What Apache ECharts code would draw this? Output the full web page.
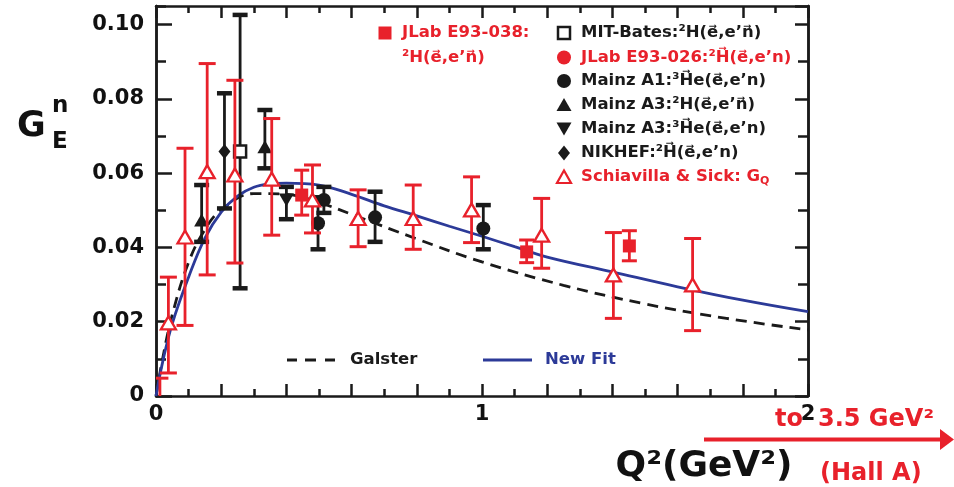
<!DOCTYPE html>
<html><head><meta charset="utf-8">
<script src="https://cdn.jsdelivr.net/npm/echarts/dist/echarts.min.js"></script>
<style>html,body{margin:0;padding:0;background:#fff}#c{width:954px;height:487px}</style>
</head><body><div id="c"></div>
<script>
// ---- curves ----
const galsterQ2 = [0, 0.02, 0.05, 0.1, 0.15, 0.2, 0.3, 0.4, 0.5, 0.6, 0.8, 1.0, 1.25, 1.5, 1.75, 2.0];
const galsterG  = [0, 0.0099, 0.0219, 0.036, 0.0448, 0.0501, 0.0545, 0.0543, 0.0521, 0.0489, 0.0423, 0.0361, 0.0298, 0.0248, 0.0209, 0.0178];
const newFitQ2 = [0, 0.02, 0.05, 0.1, 0.15, 0.2, 0.25, 0.3, 0.35, 0.4, 0.5, 0.6, 0.7, 0.8, 0.9, 1.0, 1.1, 1.2, 1.4, 1.6, 1.8, 2.0];
const newFitG  = [0, 0.009, 0.0195, 0.032, 0.0425, 0.0495, 0.0538, 0.0562, 0.0571, 0.0573, 0.0568, 0.0543, 0.0512, 0.0485, 0.0457, 0.043, 0.0402, 0.0374, 0.0334, 0.0294, 0.0258, 0.0227];
// ---- data points: [Q2, GEn, low, high] ----
const jlab038   = [[0.447, 0.0541, 0.0487, 0.0608], [1.137, 0.0388, 0.0359, 0.042], [1.452, 0.0404, 0.0364, 0.0445]];
const mitBates  = [[0.258, 0.0658, 0.029, 0.1026]];
const mainzA1   = [[0.497, 0.0465, 0.0395, 0.0535], [0.515, 0.0528, 0.0493, 0.0563], [0.672, 0.0481, 0.0415, 0.055], [1.004, 0.0451, 0.0395, 0.0514]];
const mainzA3d  = [[0.14, 0.0474, 0.0415, 0.0568], [0.334, 0.0671, 0.0613, 0.077]];
const mainzA3he = [[0.40, 0.0528, 0.0476, 0.0563]];
const nikhef    = [[0.21, 0.0658, 0.0505, 0.0815]];
const schiavilla = [[0.012, -0.004, -0.012, 0.0048], [0.038, 0.0197, 0.0062, 0.032], [0.089, 0.0428, 0.019, 0.0667], [0.157, 0.0604, 0.0326, 0.0895],
  [0.242, 0.0595, 0.0358, 0.085], [0.355, 0.0584, 0.0433, 0.0747], [0.48, 0.0528, 0.0439, 0.0622], [0.62, 0.0478, 0.0402, 0.0555],
  [0.789, 0.0478, 0.0395, 0.0568], [0.968, 0.0501, 0.0413, 0.059], [1.183, 0.0433, 0.0344, 0.0532], [1.403, 0.0326, 0.0209, 0.044], [1.646, 0.0299, 0.0176, 0.0424]];
const xLabelValues = [0, 1, 2];
const yLabelValues = [0, 0.02, 0.04, 0.06, 0.08, 0.10];

const RED = '#e8212b', BLK = '#1a1a1a', BLUE = '#2c3a98';
const FONT = '"DejaVu Sans", sans-serif';

function errBars(data, color, capW, lw, capLw, z) {
  return {
    type: 'custom', data: data, z: z, clip: true, silent: true,
    encode: { x: 0, y: 1 },
    renderItem: function (params, api) {
      const x = api.value(0);
      const pLo = api.coord([x, api.value(2)]);
      const pHi = api.coord([x, api.value(3)]);
      const h = capW / 2;
      return { type: 'group', children: [
        { type: 'line', shape: { x1: pLo[0], y1: pLo[1], x2: pHi[0], y2: pHi[1] }, style: { stroke: color, lineWidth: lw } },
        { type: 'line', shape: { x1: pLo[0] - h, y1: pLo[1], x2: pLo[0] + h, y2: pLo[1] }, style: { stroke: color, lineWidth: capLw } },
        { type: 'line', shape: { x1: pHi[0] - h, y1: pHi[1], x2: pHi[0] + h, y2: pHi[1] }, style: { stroke: color, lineWidth: capLw } }
      ] };
    }
  };
}
function marks(data, symbol, size, fill, stroke, bw, z) {
  return { type: 'scatter', data: data.map(d => [d[0], d[1]]), symbol: symbol, symbolSize: size, z: z, silent: true,
    itemStyle: { color: fill, borderColor: stroke, borderWidth: bw, opacity: 1 } };
}
function near(v, arr) { return arr.some(a => Math.abs(a - v) < 1e-6); }

const axisLineStyle = { color: BLK, width: 2.5 };
const tickStyle = { color: BLK, width: 2.5 };
const labelStyle = { fontFamily: FONT, fontWeight: 'bold', fontSize: 21, color: '#111' };

function xAx(pos, showLabel) {
  return { type: 'value', position: pos, min: 0, max: 2, interval: 0.2,
    axisLine: { show: true, onZero: false, lineStyle: axisLineStyle },
    axisTick: { show: true, inside: true, length: 12, lineStyle: tickStyle },
    minorTick: { show: true, splitNumber: 2, length: 7, lineStyle: tickStyle },
    splitLine: { show: false }, minorSplitLine: { show: false },
    axisLabel: { show: showLabel, margin: 8, ...labelStyle, formatter: v => near(v, xLabelValues) ? String(Math.round(v)) : '' } };
}
function yAx(pos, interval, len, showLabel) {
  return { type: 'value', position: pos, min: 0, max: 0.105, interval: interval,
    axisLine: { show: true, onZero: false, lineStyle: axisLineStyle },
    axisTick: { show: true, inside: true, length: len, lineStyle: tickStyle },
    splitLine: { show: false },
    axisLabel: { show: showLabel, margin: 12, ...labelStyle, showMaxLabel: false,
      formatter: v => near(v, yLabelValues) ? (v === 0 ? '0' : v.toFixed(2)) : '' } };
}

const chart = echarts.init(document.getElementById('c'), null, { renderer: 'canvas' });

const legendRows = [
  { y: 33,  sym: 'osq',  color: BLK, text: 'MIT-Bates:²H(e⃗,e’n⃗)' },
  { y: 57.5, sym: 'circ', color: RED, text: 'JLab E93-026:²H⃗(e⃗,e’n)' },
  { y: 81,  sym: 'circ', color: BLK, text: 'Mainz A1:³H⃗e(e⃗,e’n)' },
  { y: 105, sym: 'tri',  color: BLK, text: 'Mainz A3:²H(e⃗,e’n⃗)' },
  { y: 128.5, sym: 'dtri', color: BLK, text: 'Mainz A3:³H⃗e(e⃗,e’n)' },
  { y: 153, sym: 'dia',  color: BLK, text: 'NIKHEF:²H⃗(e⃗,e’n)' },
  { y: 177, sym: 'otri', color: RED, text: '{a|Schiavilla & Sick: G}{s|Q}' }
];
const graphics = [];
function legendSym(kind, cx, cy, color) {
  if (kind === 'osq') return { type: 'rect', shape: { x: cx - 6, y: cy - 6, width: 12, height: 12 }, style: { fill: '#fff', stroke: color, lineWidth: 2.5 } };
  if (kind === 'fsq') return { type: 'rect', shape: { x: cx - 6.5, y: cy - 6.5, width: 13, height: 13 }, style: { fill: color } };
  if (kind === 'circ') return { type: 'circle', shape: { cx: cx, cy: cy, r: 7 }, style: { fill: color } };
  if (kind === 'tri') return { type: 'polygon', shape: { points: [[cx - 7.5, cy + 6], [cx + 7.5, cy + 6], [cx, cy - 7]] }, style: { fill: color } };
  if (kind === 'dtri') return { type: 'polygon', shape: { points: [[cx - 7.5, cy - 6], [cx + 7.5, cy - 6], [cx, cy + 7]] }, style: { fill: color } };
  if (kind === 'dia') return { type: 'polygon', shape: { points: [[cx, cy - 7.5], [cx + 6, cy], [cx, cy + 7.5], [cx - 6, cy]] }, style: { fill: color } };
  if (kind === 'otri') return { type: 'polygon', shape: { points: [[cx - 7, cy + 6], [cx + 7, cy + 6], [cx, cy - 6.5]] }, style: { fill: '#fff', stroke: color, lineWidth: 2.2 } };
}
const richDef = { a: { fontFamily: FONT, fontWeight: 'bold', fontSize: 16.5, fill: RED }, s: { fontFamily: FONT, fontWeight: 'bold', fontSize: 11, fill: RED, padding: [9, 0, 0, 0] } };
legendRows.forEach(r => {
  graphics.push(legendSym(r.sym, 564, r.y, r.color));
  graphics.push({ type: 'text', x: 581, y: r.y, style: { text: r.text, fill: r.color, font: 'bold 16.5px ' + FONT, textVerticalAlign: 'middle', rich: richDef } });
});
graphics.push(legendSym('fsq', 385, 33, RED));
graphics.push({ type: 'text', x: 402, y: 33, style: { text: 'JLab E93-038:', fill: RED, font: 'bold 16.5px ' + FONT, textVerticalAlign: 'middle' } });
graphics.push({ type: 'text', x: 402, y: 57.5, style: { text: '²H(e⃗,e’n⃗)', fill: RED, font: 'bold 16.5px ' + FONT, textVerticalAlign: 'middle' } });
// line legend
[[287, 297], [305, 316], [325, 335]].forEach(s => graphics.push({ type: 'line', shape: { x1: s[0], y1: 360, x2: s[1], y2: 360 }, style: { stroke: BLK, lineWidth: 3 } }));
graphics.push({ type: 'text', x: 350, y: 360, style: { text: 'Galster', fill: BLK, font: 'bold 16.5px ' + FONT, textVerticalAlign: 'middle' } });
graphics.push({ type: 'line', shape: { x1: 483, y1: 360, x2: 532, y2: 360 }, style: { stroke: BLUE, lineWidth: 3 } });
graphics.push({ type: 'text', x: 545, y: 360, style: { text: 'New Fit', fill: BLUE, font: 'bold 16.5px ' + FONT, textVerticalAlign: 'middle' } });
// axis titles
graphics.push({ type: 'text', x: 17, y: 127, style: { text: 'G', fill: '#111', font: 'bold 35px ' + FONT, textVerticalAlign: 'middle' } });
graphics.push({ type: 'text', x: 52, y: 106, style: { text: 'n', fill: '#111', font: 'bold 23px ' + FONT, textVerticalAlign: 'middle' } });
graphics.push({ type: 'text', x: 52, y: 142, style: { text: 'E', fill: '#111', font: 'bold 23px ' + FONT, textVerticalAlign: 'middle' } });
graphics.push({ type: 'text', x: 704, y: 467, style: { text: 'Q²(GeV²)', fill: '#111', font: 'bold 36px ' + FONT, textAlign: 'center', textVerticalAlign: 'middle' } });
// red annotation
graphics.push({ type: 'line', shape: { x1: 704, y1: 439.5, x2: 944, y2: 439.5 }, style: { stroke: RED, lineWidth: 4 } });
graphics.push({ type: 'polygon', shape: { points: [[940, 429], [954, 439.5], [940, 450]] }, style: { fill: RED } });
graphics.push({ type: 'text', x: 775, y: 420, z: -1, style: { text: 'to', fill: RED, font: 'bold 24px ' + FONT, textVerticalAlign: 'middle' } });
graphics.push({ type: 'text', x: 818, y: 420, style: { text: '3.5 GeV²', fill: RED, font: 'bold 24px ' + FONT, textVerticalAlign: 'middle' } });
graphics.push({ type: 'text', x: 820, y: 474, style: { text: '(Hall A)', fill: RED, font: 'bold 24px ' + FONT, textVerticalAlign: 'middle' } });

chart.setOption({
  animation: false,
  backgroundColor: '#fff',
  grid: { left: 156, right: 146, top: 6, bottom: 91, containLabel: false },
  xAxis: [xAx('bottom', true), xAx('top', false)],
  yAxis: [yAx('left', 0.02, 16, true), yAx('left', 0.01, 10, false), yAx('right', 0.02, 13, false), yAx('right', 0.01, 10, false)],
  series: [
    { type: 'line', data: galsterQ2.map((q, i) => [q, galsterG[i]]), smooth: 0.4, showSymbol: false, z: 1, silent: true,
      lineStyle: { color: BLK, width: 2.8, type: [11, 7] } },
    { type: 'line', data: newFitQ2.map((q, i) => [q, newFitG[i]]), smooth: 0.4, showSymbol: false, z: 1, silent: true,
      lineStyle: { color: BLUE, width: 2.8 } },
    errBars(mitBates, BLK, 15, 2.8, 4.5, 2),
    errBars(nikhef, BLK, 15, 2.8, 4.5, 2),
    errBars(mainzA3d, BLK, 15, 2.8, 4.5, 2),
    errBars(mainzA3he, BLK, 15, 2.8, 4.5, 2),
    errBars(mainzA1, BLK, 15, 2.8, 4.5, 2),
    marks(mitBates, 'rect', 12, '#fff', BLK, 2.5, 3),
    marks(nikhef, 'diamond', [12, 15], BLK, BLK, 0, 3),
    marks(mainzA3d, 'triangle', [15, 13], BLK, BLK, 0, 3),
    marks(mainzA3he, 'path://M0,0 L10,0 L5,9 Z', [15, 13], BLK, BLK, 0, 3),
    marks(mainzA1, 'circle', 14, BLK, BLK, 0, 3),
    errBars(schiavilla, RED, 17, 2.8, 3, 4),
    errBars(jlab038, RED, 15, 2.8, 3, 4),
    marks(schiavilla, 'triangle', [15, 13], '#fff', RED, 2.3, 5),
    marks(jlab038, 'rect', 13, RED, RED, 0, 5)
  ],
  graphic: graphics
});
</script>
</body></html>
